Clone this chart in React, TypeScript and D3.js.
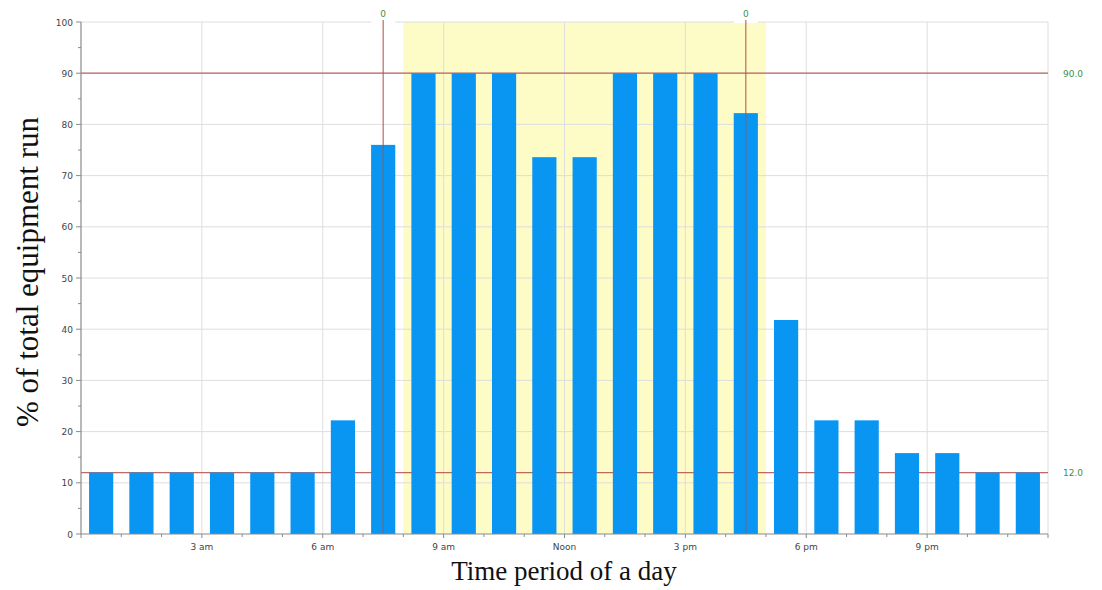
import React from "react";
import * as d3 from "d3";

const hours: number[] = Array.from({ length: 24 }, (_, i) => i);
const usage: number[] = [12, 12, 12, 12, 12, 12, 22.2, 76, 90, 90, 90, 73.6, 73.6, 90, 90, 90, 82.2, 41.8, 22.2, 22.2, 15.8, 15.8, 12, 12];
const xTickHours: number[] = [3, 6, 9, 12, 15, 18, 21];
const xTickLabels: string[] = ["3 am", "6 am", "9 am", "Noon", "3 pm", "6 pm", "9 pm"];
const yTicks: number[] = [0, 10, 20, 30, 40, 50, 60, 70, 80, 90, 100];
const yMinor: number[] = [5, 15, 25, 35, 45, 55, 65, 75, 85, 95];
const bandRange: number[] = [8, 17];
const vMarkers: number[] = [7.5, 16.5];
const vMarkerLabels: string[] = ["0", "0"];
const hMarkers: number[] = [90, 12];
const hMarkerLabels: string[] = ["90.0", "12.0"];

const W = 1102, H = 590;
const L = 81, R = 1048, T = 22, B = 534;

export default function App() {
  const x = d3.scaleLinear().domain([0, 24]).range([L, R]);
  const y = d3.scaleLinear().domain([0, 100]).range([B, T]);
  const barW = x(0.6) - x(0);
  const tickFont = "'DejaVu Sans', Verdana, sans-serif";
  const red = "#b4504c";
  const green = "#3f8f3f";
  const serif = "'Liberation Serif', 'Times New Roman', serif";
  return (
    <svg width={W} height={H} style={{ position: "absolute", left: 0, top: 0, background: "#fff" }}>
      <rect x={0} y={0} width={W} height={H} fill="#fff" />
      {/* yellow band */}
      <rect x={x(bandRange[0])} y={T} width={x(bandRange[1]) - x(bandRange[0])} height={B - T} fill="#fdfbc6" />
      {/* gridlines */}
      {yTicks.slice(1).map((t) => (
        <line key={"gy" + t} x1={L} x2={R} y1={y(t)} y2={y(t)} stroke="#dedede" strokeWidth={1} />
      ))}
      {xTickHours.map((h) => (
        <line key={"gx" + h} x1={x(h)} x2={x(h)} y1={T} y2={B} stroke="#dedede" strokeWidth={1} />
      ))}
      <line x1={R} x2={R} y1={T} y2={B} stroke="#dedede" strokeWidth={1} />
      {/* horizontal markers */}
      {hMarkers.map((v, i) => (
        <g key={"hm" + i}>
          <line x1={L} x2={R} y1={y(v)} y2={y(v)} stroke={red} strokeWidth={1.3} opacity={0.85} />
          <text x={1063} y={y(v) + 3.5} fontSize={9} fill={green} fontFamily={tickFont}>{hMarkerLabels[i]}</text>
        </g>
      ))}
      {/* bars */}
      {hours.map((h, i) => (
        <rect key={"b" + h} x={x(h + 0.5) - barW / 2} y={y(usage[i])} width={barW} height={B - y(usage[i])} fill="#0896f2" />
      ))}
      {/* vertical markers */}
      {vMarkers.map((v, i) => (
        <g key={"vm" + i}>
          <rect x={x(v) - 12} y={5} width={24} height={T - 4} fill="#fff" />
          <line x1={x(v)} x2={x(v)} y1={T - 2} y2={B} stroke={red} strokeWidth={1.2} opacity={0.85} />
          <text x={x(v)} y={17} fontSize={9} textAnchor="middle" fill={green} fontFamily={tickFont}>{vMarkerLabels[i]}</text>
        </g>
      ))}
      {/* y axis */}
      <line x1={L} x2={L} y1={T} y2={B} stroke="#8a8a8a" strokeWidth={1.2} />
      {yTicks.map((t) => (
        <g key={"yt" + t}>
          <line x1={L - 5} x2={L} y1={y(t)} y2={y(t)} stroke="#8a8a8a" />
          <text x={L - 8} y={y(t) + 3.5} fontSize={9} textAnchor="end" fill="#444" fontFamily={tickFont}>{t}</text>
        </g>
      ))}
      {yMinor.map((t) => (
        <line key={"ym" + t} x1={L - 3} x2={L} y1={y(t)} y2={y(t)} stroke="#8a8a8a" />
      ))}
      {/* x axis */}
      <line x1={L} x2={R} y1={B} y2={B} stroke="#8a8a8a" strokeWidth={1.2} />
      {d3.range(0, 25).map((h) => (
        <line key={"xt" + h} x1={x(h)} x2={x(h)} y1={B} y2={B + (h % 3 === 0 ? 4 : 3)} stroke="#8a8a8a" />
      ))}
      {xTickHours.map((h, i) => (
        <text key={"xl" + h} x={x(h)} y={B + 16} fontSize={9} textAnchor="middle" fill="#444" fontFamily={tickFont}>{xTickLabels[i]}</text>
      ))}
      {/* titles */}
      <text x={564} y={580} fontSize={27} textAnchor="middle" fill="#111" fontFamily={serif}>Time period of a day</text>
      <text transform={`translate(38, 272) rotate(-90)`} fontSize={31} textAnchor="middle" fill="#111" fontFamily={serif}>% of total equipment run</text>
    </svg>
  );
}
